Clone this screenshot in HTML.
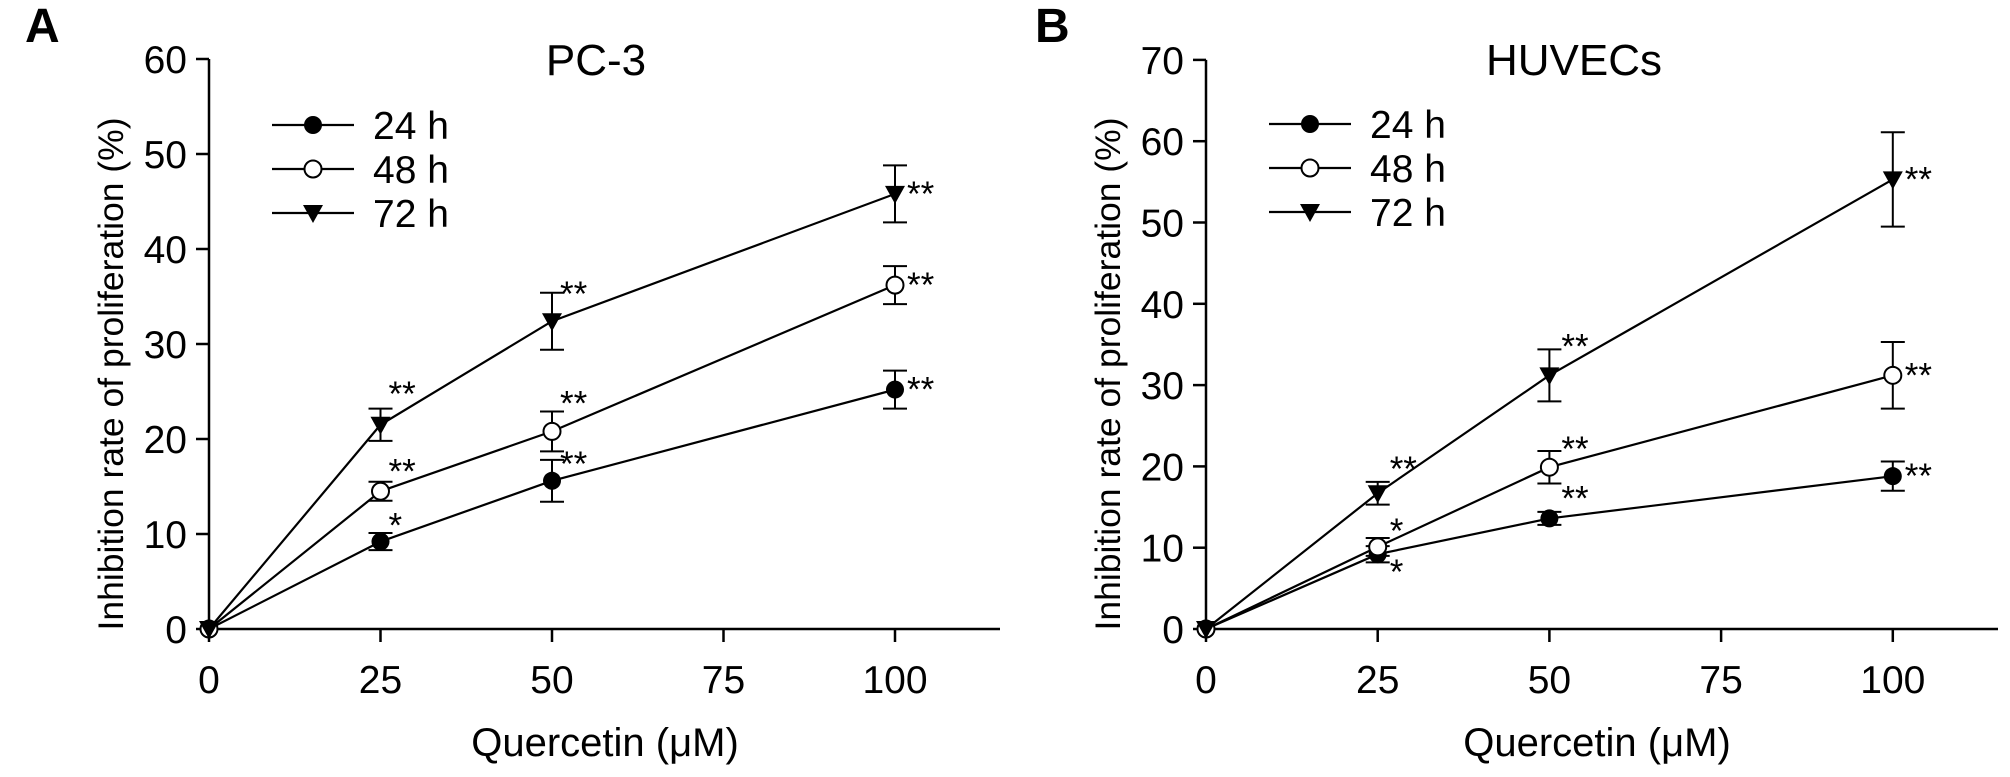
<!DOCTYPE html>
<html><head><meta charset="utf-8"><style>
html,body{margin:0;padding:0;background:#fff;}
svg{display:block;font-family:"Liberation Sans",Arial,sans-serif;}
</style></head><body>
<svg id="fig" width="2010" height="777" viewBox="0 0 2010 777"></svg>
<script>
const doses = [0, 25, 50, 100];
const xTicks = [0, 25, 50, 75, 100];
const seriesNames = ["24 h", "48 h", "72 h"];
const pc3_24 = [0, 9.2, 15.6, 25.2];
const pc3_24err = [0, 0.9, 2.2, 2.0];
const pc3_48 = [0, 14.5, 20.8, 36.2];
const pc3_48err = [0, 1.0, 2.1, 2.0];
const pc3_72 = [0, 21.5, 32.4, 45.8];
const pc3_72err = [0, 1.7, 3.0, 3.0];
const pc3_yTicks = [0, 10, 20, 30, 40, 50, 60];
const pc3_stars = [["", "*", "**", "**"], ["", "**", "**", "**"], ["", "**", "**", "**"]];
const huv_24 = [0, 9.2, 13.6, 18.8];
const huv_24err = [0, 1.0, 0.8, 1.8];
const huv_48 = [0, 10.1, 19.9, 31.2];
const huv_48err = [0, 1.1, 2.0, 4.1];
const huv_72 = [0, 16.7, 31.2, 55.3];
const huv_72err = [0, 1.4, 3.2, 5.8];
const huv_yTicks = [0, 10, 20, 30, 40, 50, 60, 70];
const huv_stars = [["", "*", "**", "**"], ["", "*", "**", "**"], ["", "**", "**", "**"]];

const NS = "http://www.w3.org/2000/svg";
const svg = document.getElementById("fig");
function mk(tag, attrs, parent, text) {
  const e = document.createElementNS(NS, tag);
  for (const k in attrs) e.setAttribute(k, attrs[k]);
  if (text !== undefined) e.textContent = text;
  (parent || svg).appendChild(e);
  return e;
}
function marker(g, kind, cx, cy) {
  let m;
  if (kind === 0) m = mk("circle", {cx: cx, cy: cy, r: 9, fill: "#000"}, g);
  else if (kind === 1) m = mk("circle", {cx: cx, cy: cy, r: 8.5, fill: "#fff", stroke: "#000", "stroke-width": 2}, g);
  else m = mk("polygon", {points: `${cx-10},${cy-8} ${cx+10},${cy-8} ${cx},${cy+10}`, fill: "#000"}, g);
  return m;
}

function panel(cfg) {
  const g = mk("g", {});
  
  
  const X = v => cfg.x0 + v * cfg.xs;
  const Y = v => cfg.y0 - v * cfg.ys;
  const st = {stroke: "#000", "stroke-width": 2.5, fill: "none"};
  const yAxis = mk("line", Object.assign({x1: cfg.x0, y1: Y(cfg.yTicks[cfg.yTicks.length-1]), x2: cfg.x0, y2: cfg.y0}, st), g);
  
  
  const xAxis = mk("line", Object.assign({x1: cfg.x0, y1: cfg.y0, x2: cfg.xEnd, y2: cfg.y0}, st), g);
  
  
  cfg.yTicks.forEach(t => {
    mk("line", Object.assign({x1: cfg.x0 - 13, y1: Y(t), x2: cfg.x0, y2: Y(t)}, st), g);
    const l = mk("text", {x: cfg.x0 - 22, y: Y(t) + 14, "font-size": 39, "text-anchor": "end"}, g, String(t));
    
    
  });
  xTicks.forEach(t => {
    mk("line", Object.assign({x1: X(t), y1: cfg.y0, x2: X(t), y2: cfg.y0 + 13}, st), g);
    const l = mk("text", {x: X(t), y: cfg.y0 + 64, "font-size": 39, "text-anchor": "middle"}, g, String(t));
    
    
  });
  const xt = mk("text", {x: cfg.xTitleX, y: 756, "font-size": 40, "text-anchor": "middle"}, g, "Quercetin (μM)");
  
  
  const yt = mk("text", {x: 0, y: 0, "font-size": 35.5, "text-anchor": "middle", transform: `translate(${cfg.x0 - 86},${374}) rotate(-90)`}, g, "Inhibition rate of proliferation (%)");
  
  
  const tt = mk("text", {x: cfg.titleX, y: 75, "font-size": 44, "text-anchor": "middle"}, g, cfg.title);
  
  
  const pl = mk("text", {x: cfg.letterX, y: 42, "font-size": 48, "font-weight": "bold"}, g, cfg.letter);
  
  

  cfg.series.forEach((s, k) => {
    const sg = mk("g", {}, g);
    
    
    const pts = doses.map((d, i) => X(d) + "," + Y(s.v[i])).join(" ");
    const ln = mk("polyline", {points: pts, stroke: "#000", "stroke-width": 2.2, fill: "none"}, sg);
    
    
    doses.forEach((d, i) => {
      const cx = X(d), e = s.e[i];
      if (e > 0) {
        const eb = mk("path", {d: `M${cx},${Y(s.v[i]+e)}V${Y(s.v[i]-e)}M${cx-12},${Y(s.v[i]+e)}H${cx+12}M${cx-12},${Y(s.v[i]-e)}H${cx+12}`, stroke: "#000", "stroke-width": 2, fill: "none"}, sg);
        
        
      }
      const m = marker(sg, k, cx, Y(s.v[i]));
      
      
      const star = cfg.stars[k][i];
      if (star) {
        const off = cfg.starOff[k][i];
        const sl = mk("text", {x: cx + off[0], y: Y(s.v[i]) + off[1], "font-size": 35}, sg, star);
        
        
      }
    });
    const ly = cfg.legY + k * 44;
    const lg = mk("g", {}, g);
    
    
    mk("line", {x1: cfg.legX, y1: ly, x2: cfg.legX + 82, y2: ly, stroke: "#000", "stroke-width": 2.2}, lg);
    marker(lg, k, cfg.legX + 41, ly);
    mk("text", {x: cfg.legX + 101, y: ly + 14, "font-size": 39}, lg, seriesNames[k]);
  });
}

const offA = [[[0,0],[8,-4],[8,-5],[12,12]], [[0,0],[8,-8],[8,-16],[12,12]], [[0,0],[8,-19],[8,-15],[12,12]]];
const offB = [[[0,0],[12,30],[12,-8],[12,12]], [[0,0],[12,-4],[12,-6],[12,12]], [[0,0],[12,-12],[12,-17],[12,12]]];

panel({name: "panel-a-pc3", x0: 209, y0: 629, xs: 171.5/25, ys: 9.5, xEnd: 1000, yTicks: pc3_yTicks,
  series: [{v: pc3_24, e: pc3_24err}, {v: pc3_48, e: pc3_48err}, {v: pc3_72, e: pc3_72err}],
  stars: pc3_stars, starOff: offA, title: "PC-3", titleX: 596, letter: "A", letterX: 25,
  xTitleX: 605, legX: 272, legY: 125});
panel({name: "panel-b-huvecs", x0: 1206, y0: 629, xs: 171.7/25, ys: 8.13, xEnd: 1998, yTicks: huv_yTicks,
  series: [{v: huv_24, e: huv_24err}, {v: huv_48, e: huv_48err}, {v: huv_72, e: huv_72err}],
  stars: huv_stars, starOff: offB, title: "HUVECs", titleX: 1574, letter: "B", letterX: 1035,
  xTitleX: 1597, legX: 1269, legY: 124});
</script>
</body></html>
